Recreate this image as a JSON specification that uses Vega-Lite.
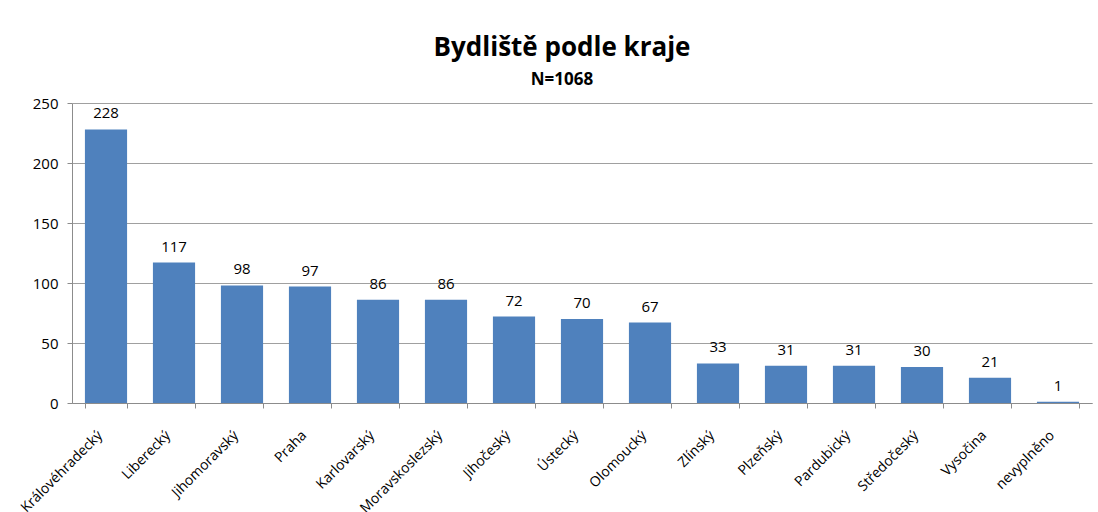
{
  "$schema": "https://vega.github.io/schema/vega-lite/v6.json",
  "autosize": "none",
  "width": 1020,
  "height": 300,
  "padding": {"left": 72, "top": 103, "right": 6, "bottom": 109},
  "background": "white",
  "title": {
    "text": "Bydliště podle kraje",
    "subtitle": "N=1068",
    "anchor": "middle",
    "dx": -20,
    "font": "Open Sans",
    "fontSize": 26,
    "fontWeight": "bold",
    "color": "black",
    "subtitleFont": "Open Sans",
    "subtitleFontSize": 17,
    "subtitleFontWeight": "bold",
    "subtitleColor": "black",
    "subtitlePadding": 11,
    "offset": 8
  },
  "data": {
    "values": [
      {"kraj": "Královéhradecký", "pocet": 228},
      {"kraj": "Liberecký", "pocet": 117},
      {"kraj": "Jihomoravský", "pocet": 98},
      {"kraj": "Praha", "pocet": 97},
      {"kraj": "Karlovarský", "pocet": 86},
      {"kraj": "Moravskoslezský", "pocet": 86},
      {"kraj": "Jihočeský", "pocet": 72},
      {"kraj": "Ústecký", "pocet": 70},
      {"kraj": "Olomoucký", "pocet": 67},
      {"kraj": "Zlínský", "pocet": 33},
      {"kraj": "Plzeňský", "pocet": 31},
      {"kraj": "Pardubický", "pocet": 31},
      {"kraj": "Středočeský", "pocet": 30},
      {"kraj": "Vysočina", "pocet": 21},
      {"kraj": "nevyplněno", "pocet": 1}
    ]
  },
  "encoding": {
    "x": {
      "field": "kraj",
      "type": "nominal",
      "sort": null,
      "scale": {"paddingInner": 0.38, "paddingOuter": 0.19},
      "axis": {
        "title": null,
        "labelAngle": -45,
        "labelFont": "Open Sans",
        "labelFontSize": 14,
        "labelColor": "black",
        "tickBand": "extent",
        "tickSize": 5,
        "tickColor": "#8c8c8c",
        "domainColor": "#8c8c8c",
        "labelPadding": 20,
        "labelOffset": -11
      }
    },
    "y": {
      "field": "pocet",
      "type": "quantitative",
      "scale": {"domain": [0, 250]},
      "axis": {
        "title": null,
        "values": [0, 50, 100, 150, 200, 250],
        "labelFont": "Open Sans",
        "labelFontSize": 15,
        "labelColor": "black",
        "tickSize": 5,
        "tickColor": "#8c8c8c",
        "domainColor": "#8c8c8c",
        "gridColor": "#a0a0a0",
        "grid": true,
        "labelPadding": 9
      }
    }
  },
  "layer": [
    {"mark": {"type": "bar", "color": "#4F81BD"}},
    {
      "mark": {"type": "text", "dy": -16, "font": "Open Sans", "fontSize": 15, "color": "black"},
      "encoding": {"text": {"field": "pocet", "type": "quantitative"}}
    }
  ],
  "config": {"view": {"stroke": null}}
}
